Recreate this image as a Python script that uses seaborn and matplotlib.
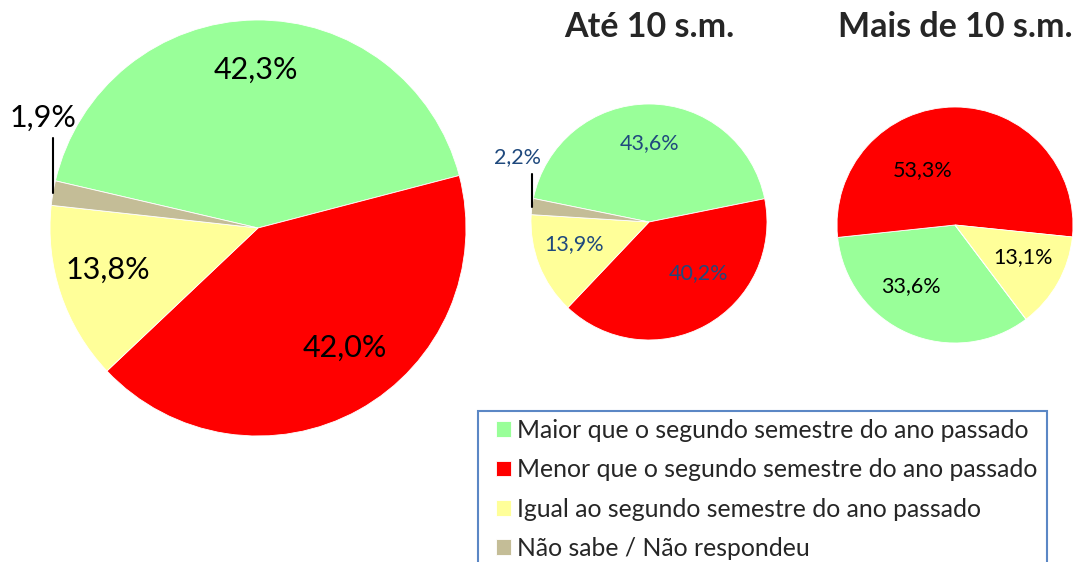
import numpy as np
import matplotlib.pyplot as plt
from matplotlib.patches import Rectangle
import seaborn as sns

sns.set_theme(style="white")
plt.rcParams['font.family'] = ['Lato', 'DejaVu Sans']

# categorias e valores (%)
categorias = ['Maior que o segundo semestre do ano passado',
              'Menor que o segundo semestre do ano passado',
              'Igual ao segundo semestre do ano passado',
              'Não sabe / Não respondeu']
total = [42.3, 42.0, 13.8, 1.9]
ate_10 = [43.6, 40.2, 13.9, 2.2]
mais_10 = [33.6, 53.3, 13.1, 0.0]
titulos = ['', 'Até 10 s.m.', 'Mais de 10 s.m.']

cores = ['#99FF99', '#FF0000', '#FFFF99', '#C4BD97']

fig = plt.figure(figsize=(10.77, 5.62), dpi=100)
ax = fig.add_axes([0, 0, 1, 1])

# (valores, centro x, centro y, raio, angulo inicial, cor do texto, tamanho,
#  dist. dos rotulos, ajuste de angulo, linha guia)
pies = [
    (total, 258, 334, 208, 166.9, 'black', 22,
     [0.76, 0.71, 0.75], [0, 7, -3], (55, -10, 20)),
    (ate_10, 649, 340, 118, 168.5, '#1F497D', 15.5,
     [0.67, 0.60, 0.66], [0, 15, -5], (33, -15, 16)),
    (mais_10, 955, 337, 118, 307.0, 'black', 15.5,
     [0.64, 0.54, 0.64], [-12, 30, 4], None),
]

handles = None
for vals, cx, cy, r, start, tcol, fs, dists, nudges, leader in pies:
    wedges, _ = ax.pie(vals, colors=cores, startangle=start, counterclock=False,
                       center=(cx, cy), radius=r,
                       wedgeprops=dict(edgecolor='white', linewidth=0.6))
    if handles is None:
        handles = wedges
    for i in range(3):
        w = wedges[i]
        mid = np.deg2rad((w.theta1 + w.theta2) / 2 + nudges[i])
        x = cx + dists[i] * r * np.cos(mid)
        y = cy + dists[i] * r * np.sin(mid)
        ax.text(x, y, f'{vals[i]:.1f}%'.replace('.', ','), ha='center', va='center',
                fontsize=fs, color=tcol)
    if leader is not None:
        w = wedges[3]
        mid = np.deg2rad((w.theta1 + w.theta2) / 2)
        ex = cx + r * np.cos(mid)
        ey = cy + r * np.sin(mid)
        length, dx, dy = leader
        ax.plot([ex, ex], [ey, ey + length], color='black', lw=1.5)
        ax.text(ex + dx, ey + length + dy, f'{vals[3]:.1f}%'.replace('.', ','),
                ha='center', va='center', fontsize=fs, color=tcol)

ax.text(649, 535, titulos[1], ha='center', va='center', fontsize=24.5, fontweight='bold')
ax.text(955, 535, titulos[2], ha='center', va='center', fontsize=24.5, fontweight='bold')

# moldura da legenda (cortada na parte de baixo, como no original)
ax.add_patch(Rectangle((478, -20), 569, 171, fill=False, edgecolor='#5B87C5',
                       linewidth=1.5, clip_on=True))
leg = ax.legend(handles, categorias, loc='upper left', bbox_to_anchor=(496, 143),
                bbox_transform=ax.transData, fontsize=17.8, frameon=False,
                handlelength=0.6, handleheight=0.6, handletextpad=0.25,
                labelspacing=0.66, borderpad=0, borderaxespad=0)

ax.set_xlim(0, 1077)
ax.set_ylim(0, 562)
ax.set_aspect('equal')
ax.axis('off')

fig.savefig('out.png', dpi=100)
